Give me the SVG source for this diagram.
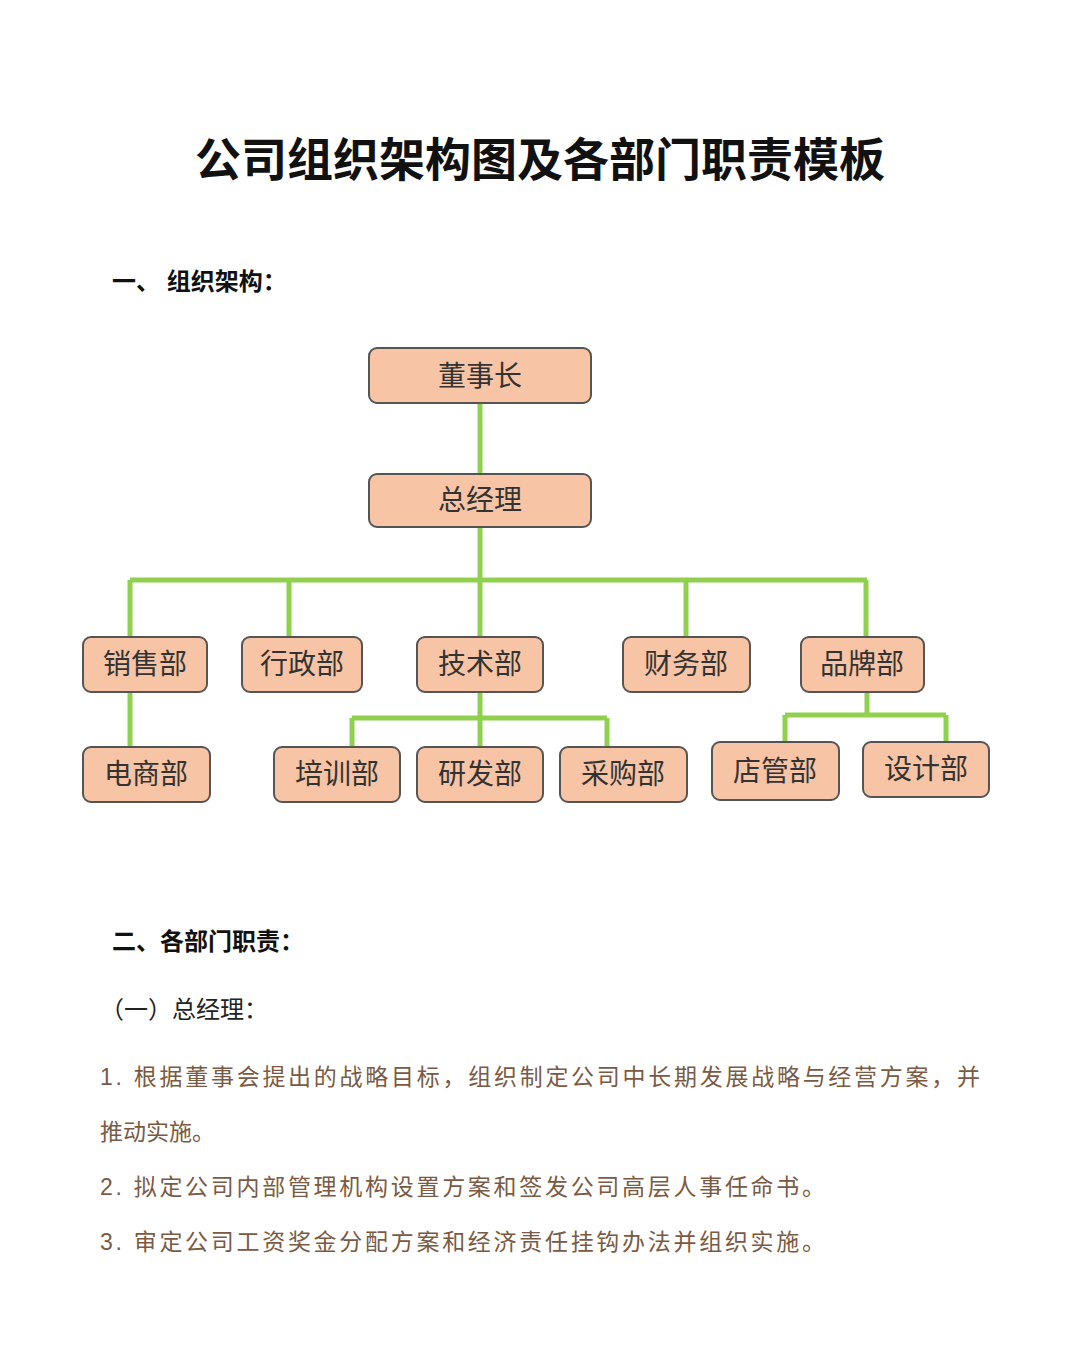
<svg xmlns="http://www.w3.org/2000/svg" width="1080" height="1372" viewBox="0 0 1080 1372">
<style>
text{font-family:"Liberation Sans","Noto Sans CJK SC",sans-serif}
.b rect{fill:#f7c4a5;stroke:#555;stroke-width:2}
.b text{font-size:28px;fill:#333;text-anchor:middle}
.c{stroke:#8fd14f;stroke-width:5;fill:none}
.h{font-size:24px;font-weight:bold;fill:#111}
.p{font-size:23px;fill:#7a5a44}
</style>
<rect width="1080" height="1372" fill="#fff"/>
<text x="540" y="176" text-anchor="middle" font-size="46" font-weight="bold" fill="#111">公司组织架构图及各部门职责模板</text>
<text class="h" x="112" y="290">一、  组织架构：</text>
<g class="c">
<path d="M480 403V474M480 527V580M130 580H867M130 580V637M289 580V637M480 580V637M686 580V637M866 580V637"/>
<path d="M130 692V747M480 692V718M352 718H607M352 718V747M480 718V747M607 718V747"/>
<path d="M867 692V715M785 715H946M785 715V742M946 715V742"/>
</g>
<g class="b" id="n1"><rect x="369" y="348" width="222" height="55" rx="8"/><text x="480" y="386">董事长</text></g>
<g class="b" id="n2"><rect x="369" y="474" width="222" height="53" rx="8"/><text x="480" y="510">总经理</text></g>
<g class="b" id="n3"><rect x="83" y="637" width="124" height="55" rx="8"/><text x="145" y="674">销售部</text></g>
<g class="b" id="n4"><rect x="242" y="637" width="120" height="55" rx="8"/><text x="302" y="674">行政部</text></g>
<g class="b" id="n5"><rect x="417" y="637" width="126" height="55" rx="8"/><text x="480" y="674">技术部</text></g>
<g class="b" id="n6"><rect x="623" y="637" width="127" height="55" rx="8"/><text x="686" y="674">财务部</text></g>
<g class="b" id="n7"><rect x="801" y="637" width="123" height="55" rx="8"/><text x="862" y="674">品牌部</text></g>
<g class="b" id="n8"><rect x="83" y="747" width="127" height="55" rx="8"/><text x="146" y="784">电商部</text></g>
<g class="b" id="n9"><rect x="274" y="747" width="126" height="55" rx="8"/><text x="337" y="784">培训部</text></g>
<g class="b" id="n10"><rect x="417" y="747" width="126" height="55" rx="8"/><text x="480" y="784">研发部</text></g>
<g class="b" id="n11"><rect x="560" y="747" width="127" height="55" rx="8"/><text x="623" y="784">采购部</text></g>
<g class="b" id="n12"><rect x="712" y="742" width="127" height="58" rx="8"/><text x="775" y="781">店管部</text></g>
<g class="b" id="n13"><rect x="863" y="742" width="126" height="55" rx="8"/><text x="926" y="779">设计部</text></g>
<text class="h" x="112" y="950">二、各部门职责：</text>
<text x="100" y="1018" font-size="24" fill="#222">（一）总经理：</text>
<text class="p" x="100" y="1085" textLength="880">1. 根据董事会提出的战略目标，组织制定公司中长期发展战略与经营方案，并</text>
<text class="p" x="100" y="1140">推动实施。</text>
<text class="p" x="100" y="1195" textLength="725">2. 拟定公司内部管理机构设置方案和签发公司高层人事任命书。</text>
<text class="p" x="100" y="1250" textLength="725">3. 审定公司工资奖金分配方案和经济责任挂钩办法并组织实施。</text>
</svg>
